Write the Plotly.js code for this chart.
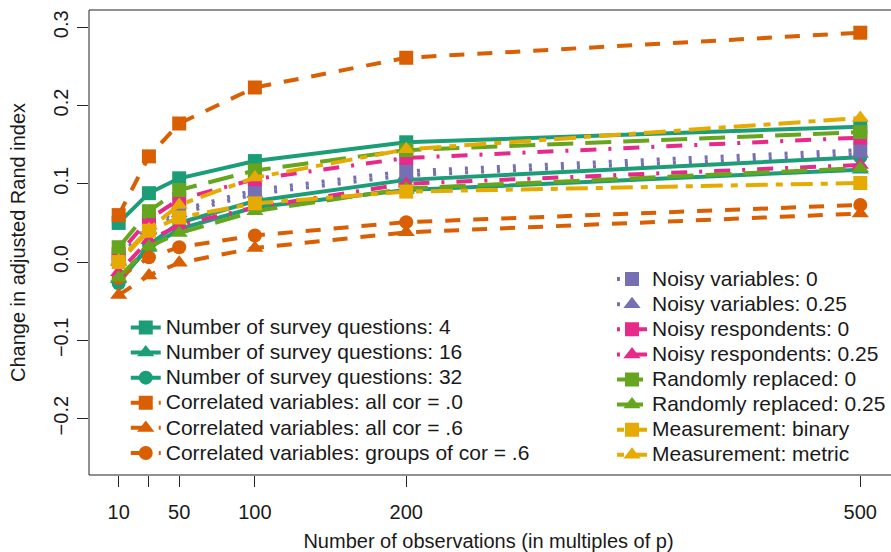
<!DOCTYPE html>
<html>
<head>
<meta charset="utf-8">
<script src="https://cdn.plot.ly/plotly-3.0.1.min.js"></script>
<style>html,body{margin:0;padding:0;background:#fff;}#chart{width:891px;height:552px;}</style>
</head>
<body>
<div id="chart"></div>
<script>
// x positions: number of observations (multiples of p)
const obs = [10, 30, 50, 100, 200, 500];
const xTickVals = [10, 30, 50, 100, 200, 500];
const xTickText = ['10', '', '50', '100', '200', '500'];
const yTickVals = [-0.2, -0.1, 0, 0.1, 0.2, 0.3];
const yTickText = ['\u22120.2', '\u22120.1', '0.0', '0.1', '0.2', '0.3'];

const seriesNames = [
  'Number of survey questions: 4',
  'Number of survey questions: 16',
  'Number of survey questions: 32',
  'Correlated variables: all cor = .0',
  'Correlated variables: all cor = .6',
  'Correlated variables: groups of cor = .6',
  'Noisy variables: 0',
  'Noisy variables: 0.25',
  'Noisy respondents: 0',
  'Noisy respondents: 0.25',
  'Randomly replaced: 0',
  'Randomly replaced: 0.25',
  'Measurement: binary',
  'Measurement: metric'
];

const nsq4   = [0.050, 0.088, 0.107, 0.129, 0.153, 0.173];
const nsq16  = [-0.022, 0.018, 0.042, 0.070, 0.092, 0.118];
const nsq32  = [-0.027, 0.022, 0.050, 0.078, 0.105, 0.134];
const cor0   = [0.060, 0.135, 0.177, 0.223, 0.261, 0.293];
const cor6   = [-0.042, -0.017, -0.001, 0.018, 0.038, 0.062];
const corGrp = [-0.020, 0.006, 0.019, 0.034, 0.051, 0.073];
const noisyVar0   = [0.005, 0.047, 0.066, 0.092, 0.116, 0.143];
const noisyVar25  = [0.000, 0.040, 0.062, 0.087, 0.111, 0.138];
const noisyResp0  = [0.010, 0.055, 0.080, 0.106, 0.133, 0.159];
const noisyResp25 = [-0.013, 0.028, 0.047, 0.070, 0.100, 0.124];
const randRep0    = [0.019, 0.065, 0.092, 0.117, 0.143, 0.166];
const randRep25   = [-0.020, 0.020, 0.037, 0.065, 0.094, 0.120];
const measBinary  = [0.000, 0.040, 0.057, 0.075, 0.090, 0.101];
const measMetric  = [0.002, 0.042, 0.073, 0.108, 0.144, 0.184];

const allSeries = [nsq4, nsq16, nsq32, cor0, cor6, corGrp, noisyVar0, noisyVar25,
                   noisyResp0, noisyResp25, randRep0, randRep25, measBinary, measMetric];

const teal = '#1B9E77', orange = '#D95F02', purple = '#7570B3', pink = '#E7298A', green = '#66A61E', yellow = '#E6AB02';
const colors  = [teal, teal, teal, orange, orange, orange, purple, purple, pink, pink, green, green, yellow, yellow];
const solid = 'solid', dashed = '15px,13px', dotted = '3px,13px', dotdash = '3px,12px,16px,12px', longdash = '26px,12px', twodash = '7px,8px,22px,8px';
const dashes  = [solid, solid, solid, dashed, dashed, dashed, dotted, dotted, dotdash, dotdash, longdash, longdash, twodash, twodash];
const symbols = ['square', 'triangle-up', 'circle', 'square', 'triangle-up', 'circle', 'square', 'triangle-up',
                 'square', 'triangle-up', 'square', 'triangle-up', 'square', 'triangle-up'];
const legendOf = [1,1,1,1,1,1,2,2,2,2,2,2,2,2];

const legendTextSize = 21;   // displayed legend text size (row spacing set by legend font size)
const traces = allSeries.map((vals, i) => ({
  type: 'scatter',
  mode: 'lines+markers',
  x: obs,
  y: vals,
  name: '<span style="font-size:' + legendTextSize + 'px">' + seriesNames[i] + '</span>',
  legend: legendOf[i] === 1 ? 'legend' : 'legend2',
  line: {color: colors[i], width: 4, dash: dashes[i]},
  marker: {color: colors[i], symbol: symbols[i], size: symbols[i] === 'triangle-up' ? 15 : 14, line: {width: 0}},
  hoverinfo: 'skip'
}));

const fontFam = '"Liberation Sans", Arial, Helvetica, sans-serif';
const legendFontSize = 17;
const layout = {
  width: 891, height: 552,
  margin: {l: 89, r: 0, t: 10, b: 77},
  paper_bgcolor: '#fff', plot_bgcolor: '#fff',
  font: {family: fontFam, size: 20, color: '#1a1a1a'},
  showlegend: true,
  xaxis: {
    range: [-9.6, 518.3], tickvals: xTickVals, ticktext: xTickText,
    ticks: 'outside', ticklen: 11, tickcolor: '#222', tickwidth: 1,
    showgrid: false, zeroline: false, showline: false,
    tickfont: {size: 20, family: fontFam}, ticklabelstandoff: 8,
    title: {text: 'Number of observations (in multiples of p)', font: {size: 20, family: fontFam}, standoff: 17}
  },
  yaxis: {
    range: [-0.272, 0.322], tickvals: yTickVals, ticktext: yTickText,
    ticks: 'outside', ticklen: 11, tickcolor: '#222', tickwidth: 1, tickangle: -90,
    showgrid: false, zeroline: false, showline: false,
    tickfont: {size: 20, family: fontFam}, ticklabelstandoff: 1,
    title: {text: 'Change in adjusted Rand index', font: {size: 20, family: fontFam}, standoff: 19}
  },
  legend: {
    x: 0.046, y: 0.355, xanchor: 'left', yanchor: 'top', xref: 'paper', yref: 'paper',
    bgcolor: 'rgba(0,0,0,0)', borderwidth: 0, font: {size: legendFontSize, family: fontFam, color: '#1a1a1a'},
    traceorder: 'normal', itemclick: false
  },
  legend2: {
    x: 0.6546, y: 0.459, xanchor: 'left', yanchor: 'top', xref: 'paper', yref: 'paper',
    bgcolor: 'rgba(0,0,0,0)', borderwidth: 0, font: {size: legendFontSize, family: fontFam, color: '#1a1a1a'},
    traceorder: 'normal', itemclick: false
  },
  shapes: [{type: 'rect', xref: 'paper', yref: 'paper', x0: 0, x1: 1.01, y0: 0, y1: 1,
            line: {color: '#222', width: 1}, layer: 'above'}]
};

Plotly.newPlot('chart', traces, layout, {staticPlot: true, displayModeBar: false});
</script>
</body>
</html>
